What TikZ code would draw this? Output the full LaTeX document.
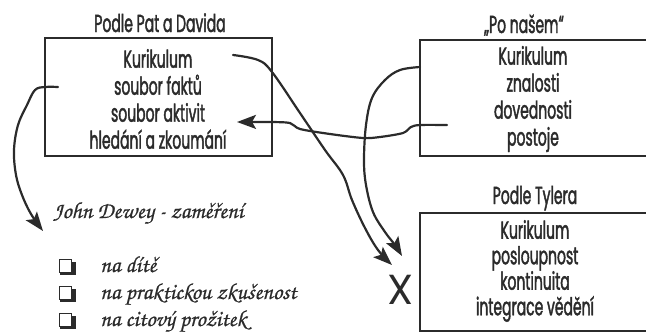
\documentclass[tikz,border=0pt]{standalone}
\usepackage{fontspec}
\setmainfont[FakeStretch=0.57, FakeBold=1.6]{Poppins}
\newfontfamily\xfont{Poppins}
\newfontfamily\scriptf[FakeBold=0.6]{TeX Gyre Chorus}
\usetikzlibrary{arrows.meta}
\definecolor{ink}{HTML}{2B2B2B}
\begin{document}
\begin{tikzpicture}[x=1pt,y=-1pt,
  boxframe/.style={draw=ink, line width=2.6pt, rectangle, inner sep=0pt},
  lbl/.style={text=ink, font=\fontsize{24.5}{27}\selectfont, align=center, inner sep=0pt},
  ttl/.style={text=ink, font=\fontsize{24.5}{27}\selectfont, inner sep=0pt, anchor=base},
  conn/.style={draw=ink, line width=2.2pt, line cap=round, line join=round,
    -{Stealth[length=19pt,width=14pt,inset=4pt]}},
  scr/.style={text=ink, font=\scriptf\fontsize{23}{26}\selectfont, inner sep=0pt, anchor=base west},
  chk/.style={draw=ink, fill=white, line width=1.1pt, minimum size=12.5pt, inner sep=0pt}
]
\useasboundingbox (0,0) rectangle (646,333);
\clip (0,0) rectangle (646,333);

% boxes
\node[boxframe, minimum width=227pt, minimum height=118pt] (b1) at (158.5,97) {};
\node[boxframe, minimum width=280pt, minimum height=116pt] (b2) at (560,98) {};
\node[boxframe, minimum width=280pt, minimum height=118pt] (b3) at (560,272) {};

% titles
\node[ttl] (h1) at (160,32) {Podle Pat a Davida};
\node[ttl] (h2) at (524,33) {„Po našem“};
\node[ttl] (h3) at (535,204) {Podle Tylera};

% box texts
\node[lbl] (t1) at (158,99) {Kurikulum\\soubor faktů\\soubor aktivit\\hledání a zkoumání};
\node[lbl] (t2) at (533,99) {Kurikulum\\znalosti\\dovednosti\\postoje};
\node[lbl, font=\fontsize{24.5}{25.5}\selectfont] (t3) at (535,271) {Kurikulum\\posloupnost\\kontinuita\\integrace vědění};

% X mark
\node[text=ink, font=\xfont\fontsize{42}{42}\selectfont, inner sep=0pt] (xm) at (401,290) {X};

% Dewey
\node[scr] (dw) at (53,218) {John Dewey - zaměření};
\foreach \yy/\nm/\tx in {266/c1/na dítě, 293/c2/na praktickou zkušenost, 320/c3/na citový prožitek}{
  \fill[ink] (60,\yy-4) rectangle (75.5,\yy+8.5);
  \node[chk] (\nm) at (65.5,\yy) {};
  \node[scr] (\nm t) at (100,\yy+6) {\tx};
}

% connector anchors
\coordinate (s1) at (233,55);
\coordinate (e1) at (392,265);
\coordinate (s2) at (420,67);
\coordinate (e2) at (402,256);
\coordinate (s3) at (447,125);
\coordinate (e3) at (237,122);
\coordinate (s4) at (58,87);
\coordinate (e4) at (43,231);

\draw[conn] plot[smooth, tension=0.6] coordinates {(s1) (258,60) (272,72) (300,113) (325,150) (343,175) (352,200) (365,228) (378,250) (e1)};
\draw[conn] plot[smooth, tension=0.6] coordinates {(s2) (400,70) (385,80) (372,98) (366,125) (364,160) (366,185) (373,212) (385,232) (395,245) (e2)};
\draw[conn] plot[smooth, tension=0.5] coordinates {(s3) (420,125) (411,127) (403,133) (380,137) (363,138) (330,134) (300,129) (290,123) (270,122) (e3)};
\draw[conn] plot[smooth, tension=0.6] coordinates {(s4) (45,87) (35,90) (27,105) (18,125) (14,150) (16,175) (22,195) (31,214) (e4)};
\end{tikzpicture}
\end{document}
